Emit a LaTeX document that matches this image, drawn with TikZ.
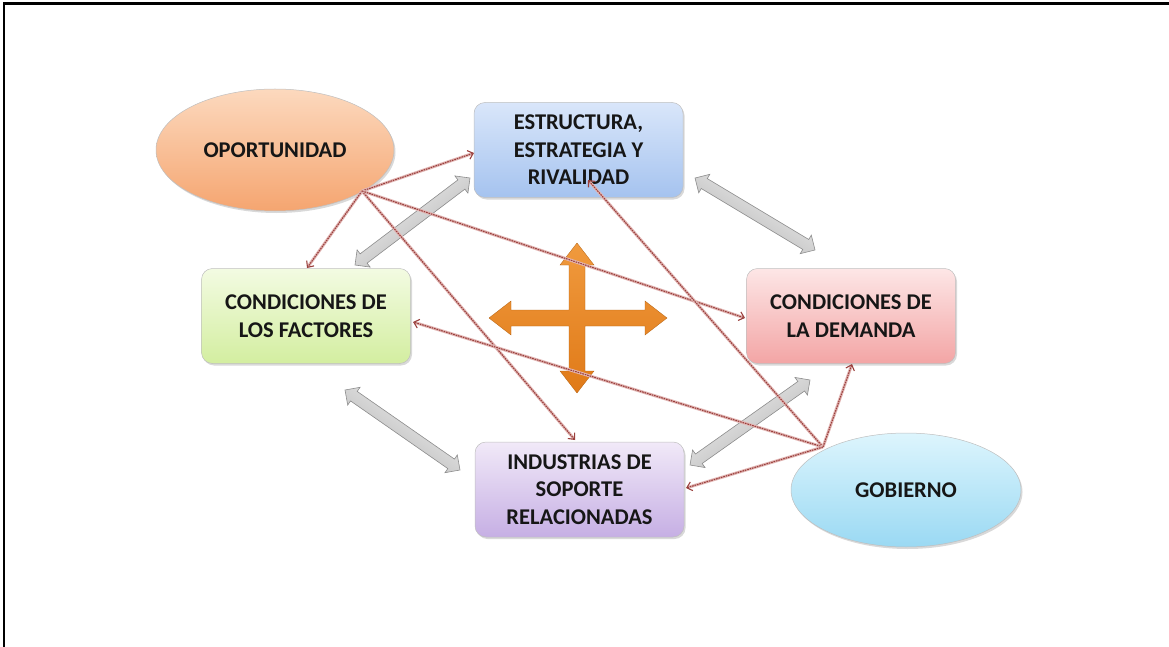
\documentclass[tikz,border=0pt]{standalone}
\usepackage{fontspec}
\setmainfont{Carlito}
\usetikzlibrary{shapes.geometric,shapes.arrows,arrows.meta,calc,shadows}
\definecolor{opoTop}{HTML}{FCD9BE}\definecolor{opoBot}{HTML}{F5A570}
\definecolor{estTop}{HTML}{D9E6FA}\definecolor{estBot}{HTML}{A5C3EF}
\definecolor{facTop}{HTML}{F3FBE2}\definecolor{facBot}{HTML}{D3EEA0}
\definecolor{demTop}{HTML}{FDE6E6}\definecolor{demBot}{HTML}{F3A5A5}
\definecolor{indTop}{HTML}{F1E9F8}\definecolor{indBot}{HTML}{C6AFE4}
\definecolor{gobTop}{HTML}{DDF5FD}\definecolor{gobBot}{HTML}{9AD9F3}
\definecolor{crossA}{HTML}{F09A3E}\definecolor{crossB}{HTML}{E07A18}
\definecolor{arrRed}{HTML}{9A3F3C}\definecolor{arrPink}{HTML}{E2B7B5}
\definecolor{txt}{HTML}{161616}
\tikzset{
  lbl/.style={align=center, text=txt, font=\fontsize{22.5}{27.5}\selectfont\bfseries},
  shad/.style={drop shadow={shadow xshift=1.5pt, shadow yshift=-2pt, opacity=0.25, fill=black!60}},
  boxnode/.style={lbl, shad, rectangle, rounded corners=11pt, minimum width=209pt, minimum height=95pt, inner sep=0pt, draw=black!25, line width=0.5pt},
  ellnode/.style={lbl, shad, ellipse, inner sep=0pt, draw=black!25, line width=0.5pt},
  garrow/.style={double arrow, draw=black!45, line width=0.6pt, inner sep=5.5pt, double arrow head extend=5pt, top color=black!5, bottom color=black!30},
  redarr/.style={draw=arrRed, line width=1.1pt, dash pattern=on 1.6pt off 0.9pt,
     preaction={draw=arrPink, line width=3pt, solid, -, shorten >=2pt},
     -{Straight Barb[length=5pt,width=9pt,line width=1.1pt]}}
}
\begin{document}
\begin{tikzpicture}[x=1pt,y=-1pt]
\useasboundingbox (0,0) rectangle (1169,647);
% frame
\draw[line width=2.5pt, black] (4,647) -- (4,3.5) -- (1169,3.5);

% nodes
\node[ellnode, top color=opoTop, bottom color=opoBot, minimum width=238pt, minimum height=122pt] (opo) at (275,150) {OPORTUNIDAD};
\node[boxnode, top color=estTop, bottom color=estBot] (est) at (578.5,150) {ESTRUCTURA,\\ESTRATEGIA Y\\RIVALIDAD};
\node[boxnode, top color=facTop, bottom color=facBot] (fac) at (306,316) {CONDICIONES DE\\LOS FACTORES};
\node[boxnode, top color=demTop, bottom color=demBot] (dem) at (851,316) {CONDICIONES DE\\LA DEMANDA};
\node[boxnode, top color=indTop, bottom color=indBot] (ind) at (579.5,489.5) {INDUSTRIAS DE\\SOPORTE\\RELACIONADAS};
\node[ellnode, top color=gobTop, bottom color=gobBot, minimum width=230pt, minimum height=114pt] (gob) at (906,490) {GOBIERNO};

% orange cross
\shade[top color=crossA, bottom color=crossB, draw=crossB!80!black, line width=0.3pt]
 (577,243) -- (594,265) -- (585,265) -- (585,310) -- (645,310) -- (645,301) -- (667,318)
 -- (645,335) -- (645,326) -- (585,326) -- (585,371) -- (594,371) -- (577,393)
 -- (560,371) -- (569,371) -- (569,326) -- (511,326) -- (511,335) -- (489,318)
 -- (511,301) -- (511,310) -- (569,310) -- (569,265) -- (560,265) -- cycle;

% gray double arrows
\coordinate (g1a) at (355,265); \coordinate (g1b) at (470,178);
\coordinate (g2a) at (695,178); \coordinate (g2b) at (815,250);
\coordinate (g3a) at (345,390); \coordinate (g3b) at (460,470);
\coordinate (g4a) at (690,465); \coordinate (g4b) at (810,380);
\foreach \a/\b in {g1a/g1b, g2a/g2b, g3a/g3b, g4a/g4b}{
  \path let \p1=($(\b)-(\a)$), \n1={veclen(\x1,\y1)}, \n2={atan2(\y1,\x1)} in
    (\a) -- (\b) node[midway, sloped, garrow, shading angle=\n2, minimum height=\n1] {};
}

% red arrows
\coordinate (O) at (362,191);
\coordinate (G) at (823,447);
\coordinate (oe) at (474,153);
\coordinate (of) at (307,268);
\coordinate (oi) at (575,440);
\coordinate (od) at (745,318);
\coordinate (ge) at (588,180);
\coordinate (gf) at (413,322);
\coordinate (gi) at (686,488);
\coordinate (gd) at (852,364);
\foreach \t in {oe,of,oi,od}{\draw[redarr] (O) -- (\t);}
\foreach \t in {ge,gf,gi,gd}{\draw[redarr] (G) -- (\t);}
\end{tikzpicture}
\end{document}
